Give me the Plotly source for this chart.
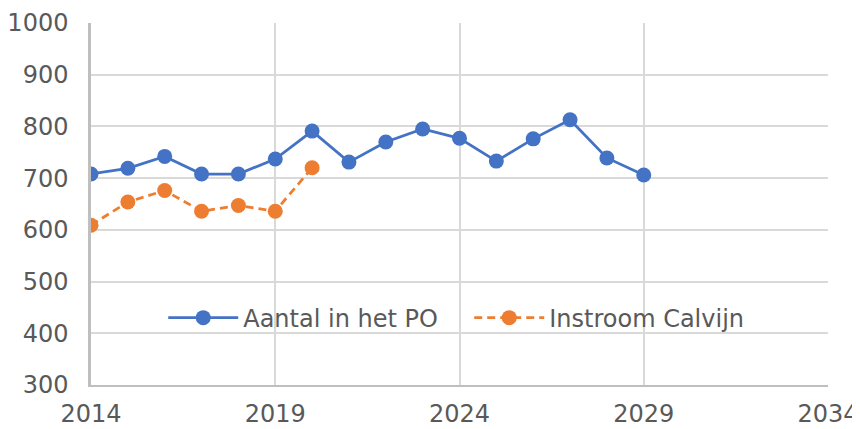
import plotly.graph_objects as go

years_po = [2014, 2015, 2016, 2017, 2018, 2019, 2020, 2021, 2022, 2023, 2024, 2025, 2026, 2027, 2028, 2029]
aantal_po = [708, 719, 742, 708, 708, 737, 791, 731, 770, 795, 777, 733, 776, 813, 739, 706]

years_cal = [2014, 2015, 2016, 2017, 2018, 2019, 2020]
instroom_calvijn = [609, 654, 676, 636, 647, 636, 720]

x_ticks = [2014, 2019, 2024, 2029, 2034]
y_ticks = [300, 400, 500, 600, 700, 800, 900, 1000]

FONT = "DejaVu Sans"
TXT = "#595959"

fig = go.Figure()
fig.add_trace(go.Scatter(
    x=years_po, y=aantal_po, name="Aantal in het PO", mode="lines+markers",
    line=dict(color="#4472C4", width=2.75),
    marker=dict(color="#4472C4", size=15),
))
fig.add_trace(go.Scatter(
    x=years_cal, y=instroom_calvijn, name="Instroom Calvijn", mode="lines+markers",
    line=dict(color="#ED7D31", width=2.75, dash="8px,5px"),
    marker=dict(color="#ED7D31", size=15),
))

# page body has an 8px margin, so the figure is shrunk and shifted accordingly
fig.update_layout(
    width=852, height=421,
    margin=dict(l=83, r=32, t=15, b=44),
    paper_bgcolor="white", plot_bgcolor="white",
    font=dict(family=FONT, size=24, color=TXT),
    showlegend=True,
    legend=dict(
        orientation="h", x=0.098, xanchor="left", y=0.185, yanchor="middle",
        bgcolor="rgba(0,0,0,0)", font=dict(family=FONT, size=24, color=TXT),
        itemwidth=70, entrywidth=221, entrywidthmode="pixels",
    ),
    xaxis=dict(
        range=[2014, 2034], tickvals=x_ticks, ticktext=[str(v) for v in x_ticks],
        showgrid=True, gridcolor="#d9d9d9", gridwidth=1.5,
        showline=True, linecolor="#bfbfbf", linewidth=2,
        zeroline=False, ticks="", ticklabelstandoff=6, automargin=False,
    ),
    yaxis=dict(
        range=[300, 1000], tickvals=y_ticks, ticktext=[str(v) for v in y_ticks],
        showgrid=True, gridcolor="#d9d9d9", gridwidth=1.5,
        showline=True, linecolor="#bfbfbf", linewidth=2.5,
        zeroline=False, ticks="", ticklabelstandoff=15, automargin=False,
    ),
)

fig.write_html("out.html")
